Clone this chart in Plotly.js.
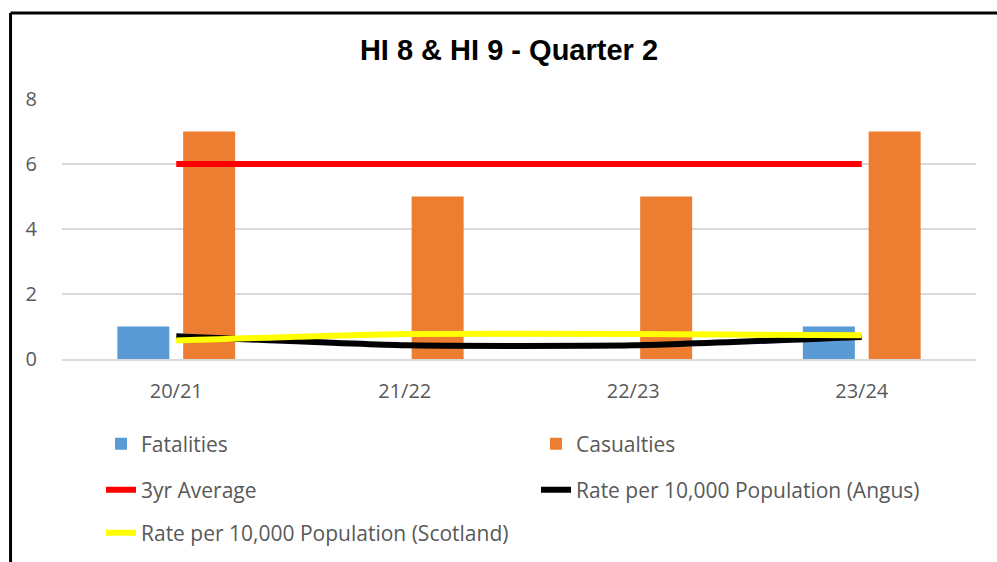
<!DOCTYPE html>
<html>
<head>
<meta charset="utf-8">
<script src="https://cdn.plot.ly/plotly-3.0.1.min.js"></script>
<style>html,body{margin:0;padding:0;background:#fff;}#chart{width:997px;height:562px;}</style>
</head>
<body>
<div id="chart"></div>
<script>
const categories = ["20/21", "21/22", "22/23", "23/24"];
const fatalities = [1, 0, 0, 1];
const casualties = [7, 5, 5, 7];
const threeYrAverage = [6, 6, 6, 6];
const rateAngus = [0.70, 0.42, 0.42, 0.68];
const rateScotland = [0.57, 0.77, 0.77, 0.73];
const yTicks = [0, 2, 4, 6, 8];

const txt = {family: "Open Sans, Liberation Sans, sans-serif", size: 20, color: "#595959"};
const legTxt = {family: "Open Sans, Liberation Sans, sans-serif", size: 21, color: "#595959"};

const traces = [
  {type: "bar", name: "Fatalities", x: categories, y: fatalities,
   marker: {color: "#5B9BD5", line: {width: 0}}, legend: "legend"},
  {type: "bar", name: "Casualties", x: categories, y: casualties,
   marker: {color: "#ED7D31", line: {width: 0}}, legend: "legend"},
  {type: "scatter", mode: "lines", name: "3yr Average", x: categories, y: threeYrAverage,
   line: {color: "#FF0000", width: 6}, legend: "legend2"},
  {type: "scatter", mode: "lines", name: "Rate per 10,000 Population (Angus)", x: categories, y: rateAngus,
   line: {color: "#000000", width: 6, shape: "spline", smoothing: 0.5}, legend: "legend2"},
  {type: "scatter", mode: "lines", name: "Rate per 10,000 Population (Scotland)", x: categories, y: rateScotland,
   line: {color: "#FFFF00", width: 6, shape: "spline", smoothing: 0.5}, legend: "legend3"}
];

const legendBase = {orientation: "h", xref: "container", yref: "container", x: 0.1013, xanchor: "left",
  yanchor: "middle", font: legTxt, entrywidth: 390, entrywidthmode: "pixels", bgcolor: "rgba(0,0,0,0)", traceorder: "normal"};

const layout = {
  width: 997, height: 562,
  paper_bgcolor: "#ffffff", plot_bgcolor: "#ffffff",
  margin: {l: 61.5, r: 20.5, t: 99, b: 202.7, pad: 0},
  title: {text: "<b>HI 8 & HI 9 - Quarter 2</b>", xref: "container", yref: "container", x: 0.5105, y: 0.911,
    xanchor: "center", yanchor: "middle", font: {family: "Liberation Sans, Arial, sans-serif", size: 29, color: "#000000"}},
  barmode: "group", bargap: 0.424, bargroupgap: 0.21,
  showlegend: true,
  xaxis: {type: "category", tickfont: txt, showgrid: false, showline: true, linecolor: "#D9D9D9", linewidth: 1.5,
    ticks: "outside", ticklen: 13, tickcolor: "rgba(0,0,0,0)", zeroline: false, fixedrange: true},
  yaxis: {range: [0, 8], tickvals: yTicks, tickfont: txt, showgrid: true, gridcolor: "#D9D9D9", gridwidth: 1.5,
    zeroline: false, showline: false, ticks: "outside", ticklen: 20, tickcolor: "rgba(0,0,0,0)", fixedrange: true},
  legend: Object.assign({}, legendBase, {y: 1 - 444/562}),
  legend2: Object.assign({}, legendBase, {y: 1 - 490/562}),
  legend3: Object.assign({}, legendBase, {y: 1 - 533/562}),
  shapes: [
    {type: "line", xref: "paper", yref: "paper", x0: (10 - 61.5)/915, x1: 1.2, y0: 1 + (99 - 12.8)/260.3, y1: 1 + (99 - 12.8)/260.3,
      line: {color: "#000000", width: 3}},
    {type: "line", xref: "paper", yref: "paper", x0: (10 - 61.5)/915, x1: (10 - 61.5)/915, y0: 1 + (99 - 12.8)/260.3, y1: -1.5,
      line: {color: "#000000", width: 3}}
  ]
};

Plotly.newPlot("chart", traces, layout, {displayModeBar: false, staticPlot: true});
</script>
</body>
</html>
